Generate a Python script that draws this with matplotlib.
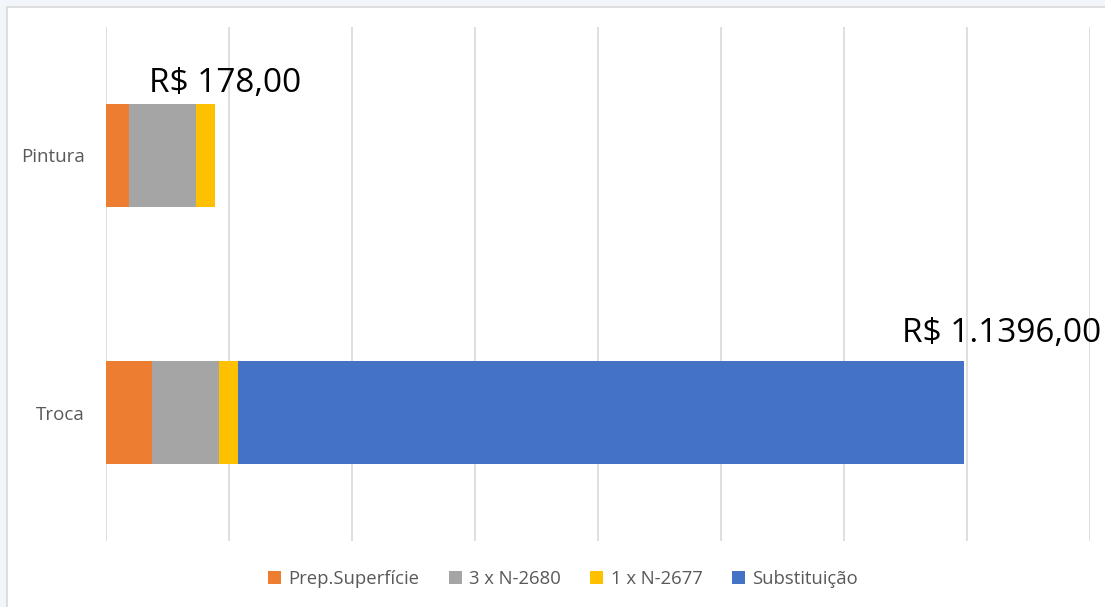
import matplotlib
matplotlib.use("Agg")
import matplotlib.pyplot as plt
from matplotlib.patches import Rectangle

# Data
categories = ["Troca", "Pintura"]
series_names = ["Prep.Superfície", "3 x N-2680", "1 x N-2677", "Substituição"]
prep_superficie = [75, 38]
n2680 = [109, 109]
n2677 = [31, 31]
substituicao = [1181, 0]
total_labels = ["R$ 1.1396,00", "R$ 178,00"]
# label offsets (points) relative to bar end / bar top
label_dx = [27, 7]
label_dy = [14, 9]

colors = ["#ED7D31", "#A5A5A5", "#FFC000", "#4472C4"]
series = [prep_superficie, n2680, n2677, substituicao]

plt.rcParams["font.family"] = ["Open Sans", "DejaVu Sans"]

fig = plt.figure(figsize=(11.05, 6.07), dpi=100)
fig.patch.set_facecolor("#f2f6fa")
# white chart area with light border
bg = Rectangle((7 / 1105, -0.01), 1.0, 1 - 7 / 607 + 0.01,
               transform=fig.transFigure, facecolor="white",
               edgecolor="#d9d9d9", linewidth=1.2, zorder=-10)
fig.add_artist(bg)

ax = fig.add_axes([105.5 / 1105, 1 - 541 / 607, (1089.5 - 105.5) / 1105, (541 - 27) / 607])
ax.set_facecolor("none")
ax.set_zorder(5)

ypos = list(range(len(categories)))
bar_h = 0.4
left = [0] * len(categories)
for name, vals, c in zip(series_names, series, colors):
    ax.barh(ypos, vals, left=left, height=bar_h, color=c, label=name, zorder=3)
    left = [l + v for l, v in zip(left, vals)]

for i, (tot, lab) in enumerate(zip(left, total_labels)):
    ax.annotate(lab, xy=(tot, ypos[i] + bar_h / 2), xytext=(label_dx[i], label_dy[i]),
                textcoords="offset points", ha="center", va="baseline",
                fontsize=24, color="#000000")

ax.set_xlim(0, 1600)
ax.set_ylim(-0.5, 1.5)
ax.set_xticks(range(0, 1601, 200))
ax.set_xticklabels([])
ax.tick_params(axis="x", length=0)
ax.tick_params(axis="y", length=0, pad=15, labelsize=13.5, labelcolor="#595959")
ax.set_yticks(ypos)
ax.set_yticklabels(categories)
ax.grid(axis="x", color="#d9d9d9", linewidth=1.2, zorder=0)
for s in ax.spines.values():
    s.set_visible(False)

handles, labels = ax.get_legend_handles_labels()
leg = fig.legend(handles, labels, loc="center", bbox_to_anchor=(563 / 1105, 1 - 579 / 607),
                 ncol=4, frameon=False, fontsize=13.3, handlelength=0.7, handleheight=0.7,
                 handletextpad=0.4, columnspacing=1.6, labelcolor="#595959")

fig.savefig("out.png", dpi=100, facecolor=fig.get_facecolor())
